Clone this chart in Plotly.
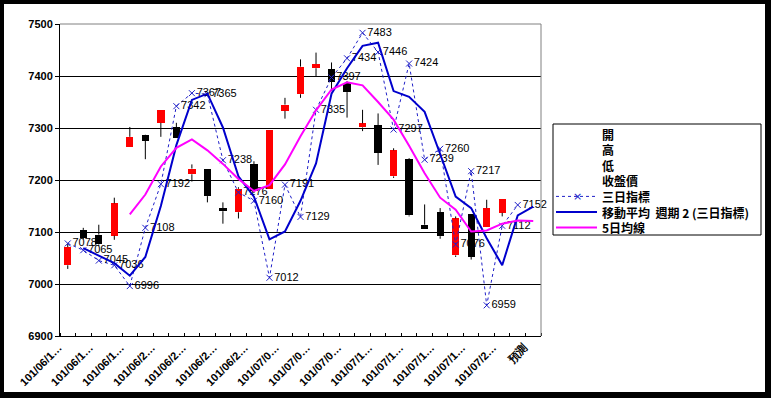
import plotly.graph_objects as go

# ---------------- data ----------------
tick_labels = ["101/06/1…", "101/06/1…", "101/06/1…", "101/06/2…", "101/06/2…",
               "101/06/2…", "101/06/2…", "101/07/0…", "101/07/0…", "101/07/0…",
               "101/07/1…", "101/07/1…", "101/07/1…", "101/07/1…", "101/07/2…", "預測"]
n_categories = 31

open_ = [7036, 7104, 7095, 7093, 7263, 7286, 7310, 7301, 7211, 7222, 7146, 7138, 7230, 7183, 7333,
         7365, 7415, 7413, 7386, 7301, 7305, 7207, 7240, 7114, 7138, 7055, 7134, 7110, 7137]
high = [7077, 7108, 7114, 7166, 7302, 7287, 7334, 7310, 7230, 7222, 7157, 7186, 7236, 7297, 7358,
        7432, 7445, 7426, 7390, 7335, 7328, 7261, 7242, 7153, 7146, 7130, 7134, 7162, 7164]
low = [7029, 7086, 7073, 7085, 7263, 7240, 7283, 7281, 7197, 7157, 7116, 7126, 7175, 7183, 7318,
       7358, 7399, 7371, 7320, 7294, 7229, 7204, 7130, 7105, 7087, 7052, 7047, 7110, 7130]
close = [7071, 7089, 7076, 7155, 7283, 7275, 7334, 7281, 7222, 7169, 7140, 7183, 7178, 7297, 7345,
         7418, 7423, 7389, 7369, 7309, 7252, 7257, 7132, 7105, 7092, 7126, 7052, 7146, 7164]

three_day = [7078, 7065, 7045, 7036, 6996, 7108, 7192, 7342, 7367, 7365, 7238, 7176, 7160, 7012, 7191,
             7129, 7335, 7397, 7434, 7483, 7446, 7297, 7424, 7239, 7260, 7076, 7217, 6959, 7112, 7152]

ma2 = [None, 7069, 7055, 7040, 7016, 7052, 7150, 7267, 7354, 7366, 7301, 7207, 7168, 7086, 7101,
       7160, 7232, 7366, 7415, 7458, 7464, 7371, 7360, 7331, 7250, 7168, 7146, 7088, 7036, 7132, 7149]

ma5 = [None, None, None, None, 7134, 7172, 7226, 7262, 7278, 7257, 7231, 7202, 7179, 7190, 7230,
       7284, 7334, 7374, 7388, 7382, 7350, 7316, 7266, 7213, 7166, 7143, 7101, 7103, 7116, 7122, 7121]

y_ticks = [6900, 7000, 7100, 7200, 7300, 7400, 7500]
grid_vals = [7000, 7100, 7200, 7300, 7400]

legend_names = ["開", "高", "低", "收盤價", "三日指標", "移動平均  週期 2 (三日指標)", "5日均線"]

# ---------------- geometry ----------------
FW, FH = 771, 398
ML, MR, MT, MB = 60, 230, 24, 62
PW = FW - ML - MR
PH = FH - MT - MB


def px(p):
    return (p - ML) / PW


def py(p):
    return (FH - MB - p) / PH


RED = "#FF0000"
BLACK = "#000000"
DOT_BLUE = "#2020C8"
MA_BLUE = "#0000CC"
MAGENTA = "#FF00FF"

xi = list(range(len(open_)))

# wicks (drawn outside body)
wx, wy = [], []
for i, (o, h, l, c) in enumerate(zip(open_, high, low, close)):
    top, bot = max(o, c), min(o, c)
    if h > top:
        wx += [i, i, None]
        wy += [h, top, None]
    if l < bot:
        wx += [i, i, None]
        wy += [bot, l, None]

fig = go.Figure()

fig.add_trace(go.Bar(
    x=xi,
    y=[abs(c - o) for o, c in zip(open_, close)],
    base=[min(o, c) for o, c in zip(open_, close)],
    marker=dict(color=[RED if c >= o else BLACK for o, c in zip(open_, close)], line=dict(width=0)),
    width=0.47, showlegend=False, hoverinfo="skip",
))

fig.add_trace(go.Scatter(x=wx, y=wy, mode="lines", line=dict(color=BLACK, width=1),
                         showlegend=False, hoverinfo="skip"))

fig.add_trace(go.Scatter(
    x=list(range(len(three_day))), y=three_day, mode="lines+markers+text",
    line=dict(color=DOT_BLUE, width=1, dash="dot"),
    marker=dict(symbol="x-thin", size=6, line=dict(color=DOT_BLUE, width=1), color=DOT_BLUE),
    text=[str(v) for v in three_day], textposition="middle right",
    textfont=dict(family="Liberation Sans", size=11, color=BLACK),
    cliponaxis=False, showlegend=False,
))

fig.add_trace(go.Scatter(x=list(range(n_categories)), y=ma2, mode="lines",
                         line=dict(color=MA_BLUE, width=2), showlegend=False))
fig.add_trace(go.Scatter(x=list(range(n_categories)), y=ma5, mode="lines",
                         line=dict(color=MAGENTA, width=2), showlegend=False))

shapes = []
# black frame around chart
for (x0, x1, y0, y1) in [(0, 4, 0, FH), (FW - 6, FW, 0, FH), (0, FW, 0, 4), (0, FW, FH - 6, FH)]:
    shapes.append(dict(type="rect", xref="paper", yref="paper", x0=px(x0), x1=px(x1),
                       y0=py(y1), y1=py(y0), fillcolor=BLACK, line=dict(width=0), layer="above"))
# plot area gray border (top & right)
shapes.append(dict(type="line", xref="paper", yref="paper", x0=0, x1=1, y0=1, y1=1,
                   line=dict(color="#808080", width=1)))
shapes.append(dict(type="line", xref="paper", yref="paper", x0=1, x1=1, y0=0, y1=1,
                   line=dict(color="#808080", width=1)))

# manual legend
LX0, LX1, LY0, LY1 = 553, 761, 124, 235
shapes.append(dict(type="rect", xref="paper", yref="paper", x0=px(LX0), x1=px(LX1),
                   y0=py(LY1), y1=py(LY0), fillcolor="white", line=dict(color=BLACK, width=1)))
row_y = [134 + 15.6 * k for k in range(len(legend_names))]
annotations = []
for name, ry in zip(legend_names, row_y):
    annotations.append(dict(xref="paper", yref="paper", x=px(600), y=py(ry), text=name,
                            showarrow=False, xanchor="left", yanchor="middle",
                            font=dict(family="Noto Sans CJK TC", size=12, color=BLACK, weight="bold")))
line_styles = [(DOT_BLUE, "dot", 1), (MA_BLUE, "solid", 2), (MAGENTA, "solid", 2)]
for (col, dash, w), ry in zip(line_styles, row_y[4:]):
    shapes.append(dict(type="line", xref="paper", yref="paper", x0=px(556), x1=px(597),
                       y0=py(ry), y1=py(ry), line=dict(color=col, width=w, dash=dash)))
annotations.append(dict(xref="paper", yref="paper", x=px(577), y=py(row_y[4]), text="×",
                        showarrow=False, xanchor="center", yanchor="middle",
                        font=dict(family="DejaVu Sans", size=11, color=DOT_BLUE)))

fig.update_layout(
    width=FW, height=FH,
    margin=dict(l=ML, r=MR, t=MT, b=MB, autoexpand=False),
    paper_bgcolor="white", plot_bgcolor="white",
    showlegend=False, bargap=0,
    shapes=shapes, annotations=annotations,
    font=dict(family="Liberation Sans", color=BLACK),
    xaxis=dict(
        range=[-0.5, n_categories - 0.5], showgrid=False, zeroline=False,
        showline=True, linecolor=BLACK, linewidth=1,
        tickmode="array", tickvals=[2 * k for k in range(len(tick_labels))],
        ticktext=tick_labels, ticks="", tickangle=-45, ticklabelshift=-9,
        tickfont=dict(family="Liberation Sans", size=11, color=BLACK, weight="bold"),
        minor=dict(tick0=-0.5, dtick=1, ticks="inside", ticklen=3, tickcolor=BLACK, showgrid=False),
    ),
    yaxis=dict(
        range=[y_ticks[0], y_ticks[-1]], showgrid=False, zeroline=False,
        showline=True, linecolor=BLACK, linewidth=1,
        tickmode="array", tickvals=y_ticks, ticktext=[str(v) for v in y_ticks],
        ticks="outside", ticklen=4, tickcolor=BLACK,
        tickfont=dict(family="Liberation Sans", size=11, color=BLACK, weight="bold"),
        minor=dict(tickmode="array", tickvals=grid_vals, showgrid=True, gridcolor=BLACK,
                   gridwidth=1, ticks=""),
    ),
)

fig.write_html("out.html", config={"displayModeBar": False},
               post_script="document.body.style.margin='0px';document.body.style.overflow='hidden';")
